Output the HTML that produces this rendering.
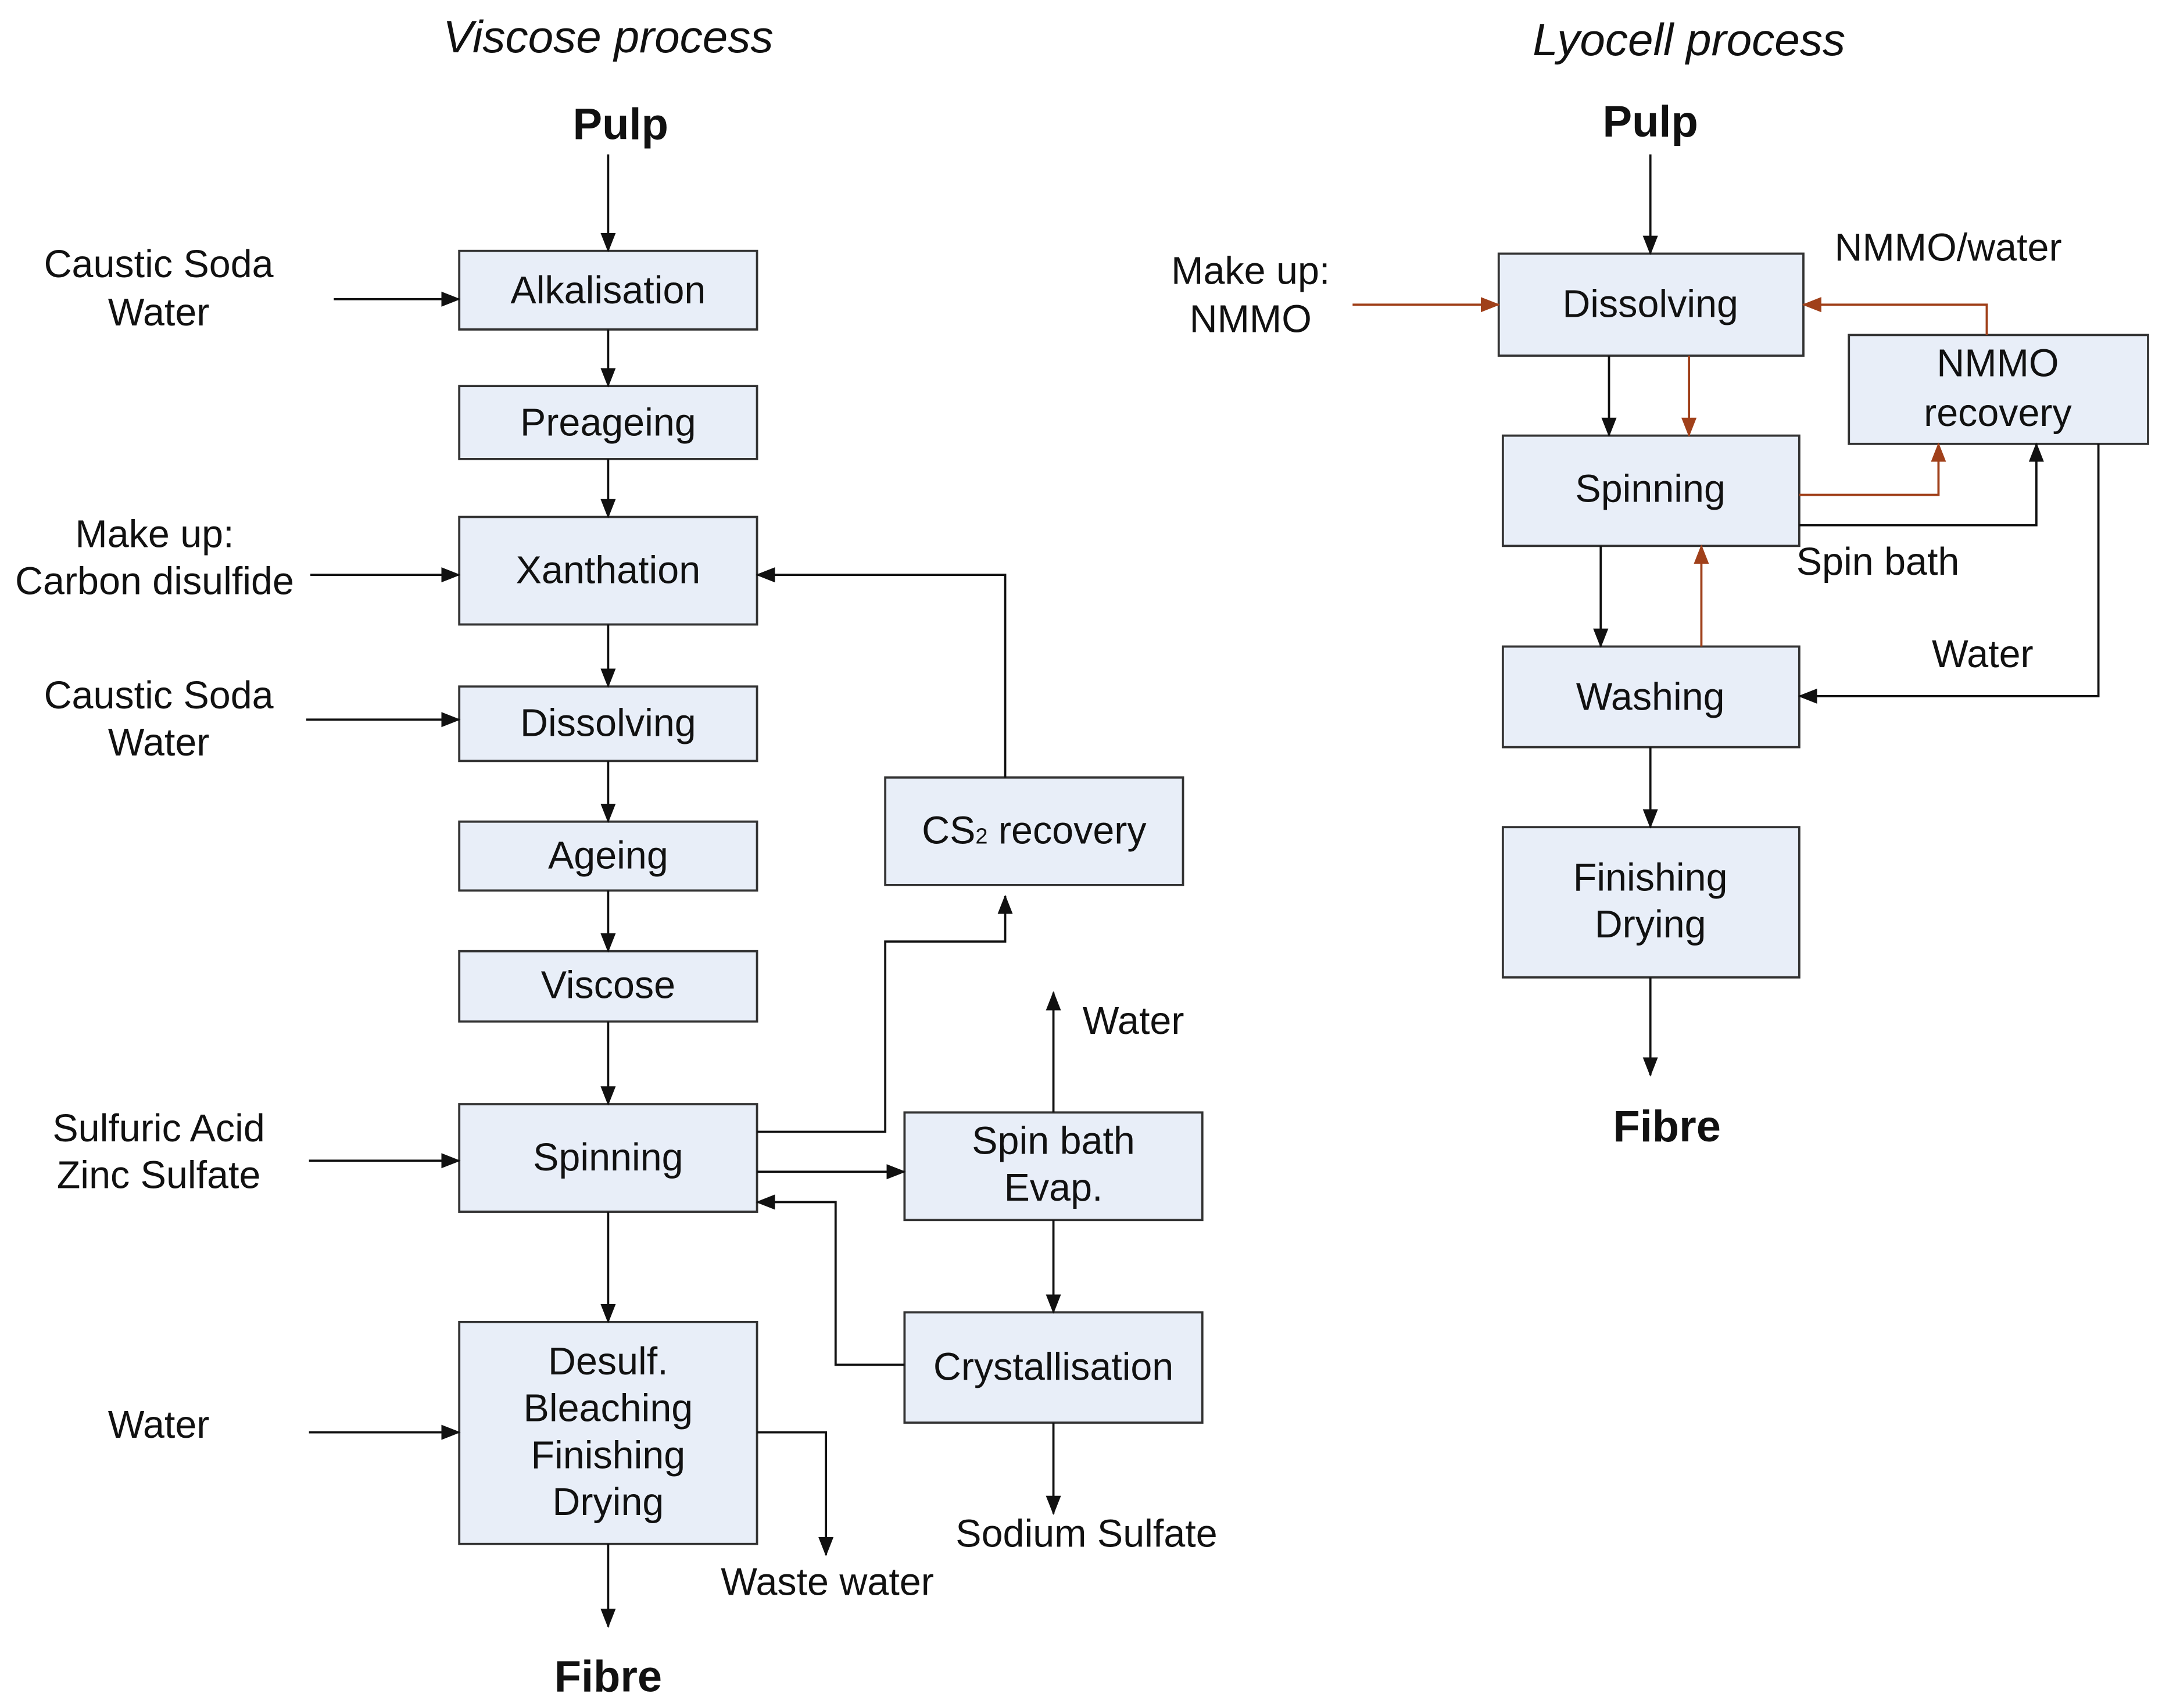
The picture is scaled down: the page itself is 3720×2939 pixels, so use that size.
<!DOCTYPE html>
<html><head><meta charset="utf-8"><style>
html,body{margin:0;padding:0;background:#fff;}
svg{display:block;}
text{font-family:"Liberation Sans",Arial,sans-serif;fill:#111;}
</style></head><body>
<svg width="3720" height="2939" viewBox="0 0 1568 1239" xmlns="http://www.w3.org/2000/svg">
<defs>
<marker id="a" markerWidth="14" markerHeight="11" refX="13" refY="5.5" orient="auto" markerUnits="userSpaceOnUse"><path d="M0,0 L14,5.5 L0,11 z" fill="#111"/></marker>
<marker id="b" markerWidth="14" markerHeight="11" refX="13" refY="5.5" orient="auto" markerUnits="userSpaceOnUse"><path d="M0,0 L14,5.5 L0,11 z" fill="#a0401a"/></marker>
</defs>
<g fill="#e8eef8" stroke="#333" stroke-width="1.6">
<rect x="333" y="182" width="216" height="57"/>
<rect x="333" y="280" width="216" height="53"/>
<rect x="333" y="375" width="216" height="78"/>
<rect x="333" y="498" width="216" height="54"/>
<rect x="333" y="596" width="216" height="50"/>
<rect x="333" y="690" width="216" height="51"/>
<rect x="333" y="801" width="216" height="78"/>
<rect x="333" y="959" width="216" height="161"/>
<rect x="642" y="564" width="216" height="78"/>
<rect x="656" y="807" width="216" height="78"/>
<rect x="656" y="952" width="216" height="80"/>
<rect x="1087" y="184" width="221" height="74"/>
<rect x="1341" y="243" width="217" height="79"/>
<rect x="1090" y="316" width="215" height="80"/>
<rect x="1090" y="469" width="215" height="73"/>
<rect x="1090" y="600" width="215" height="109"/>
</g>
<g font-size="28" text-anchor="middle">
<text x="441" y="220">Alkalisation</text>
<text x="441" y="316">Preageing</text>
<text x="441" y="423">Xanthation</text>
<text x="441" y="534">Dissolving</text>
<text x="441" y="630">Ageing</text>
<text x="441" y="724">Viscose</text>
<text x="441" y="849">Spinning</text>
<text x="441" y="997">Desulf.</text>
<text x="441" y="1031">Bleaching</text>
<text x="441" y="1065">Finishing</text>
<text x="441" y="1099">Drying</text>
<text x="750" y="612">CS<tspan font-size="16">2</tspan> recovery</text>
<text x="764" y="837">Spin bath</text>
<text x="764" y="871">Evap.</text>
<text x="764" y="1001">Crystallisation</text>
<text x="1197" y="230">Dissolving</text>
<text x="1449" y="273">NMMO</text>
<text x="1449" y="309">recovery</text>
<text x="1197" y="364">Spinning</text>
<text x="1197" y="515">Washing</text>
<text x="1197" y="646">Finishing</text>
<text x="1197" y="680">Drying</text>
<text x="115" y="201">Caustic Soda</text>
<text x="115" y="236">Water</text>
<text x="112" y="397">Make up:</text>
<text x="112" y="431">Carbon disulfide</text>
<text x="115" y="514">Caustic Soda</text>
<text x="115" y="548">Water</text>
<text x="115" y="828">Sulfuric Acid</text>
<text x="115" y="862">Zinc Sulfate</text>
<text x="115" y="1043">Water</text>
<text x="600" y="1157">Waste water</text>
<text x="822" y="750">Water</text>
<text x="788" y="1122">Sodium Sulfate</text>
<text x="907" y="206">Make up:</text>
<text x="907" y="241">NMMO</text>
<text x="1413" y="189">NMMO/water</text>
<text x="1362" y="417">Spin bath</text>
<text x="1438" y="484">Water</text>
</g>
<g font-size="33" font-style="italic" text-anchor="middle">
<text x="441" y="38">Viscose process</text>
<text x="1225" y="40">Lyocell process</text>
</g>
<g font-size="32" font-weight="bold" text-anchor="middle">
<text x="450" y="101">Pulp</text>
<text x="1197" y="99">Pulp</text>
<text x="441" y="1227">Fibre</text>
<text x="1209" y="828">Fibre</text>
</g>
<g stroke="#111" stroke-width="1.6" fill="none" marker-end="url(#a)">
<path d="M441,112V182"/>
<path d="M242,217H333"/>
<path d="M441,239V280"/>
<path d="M441,333V375"/>
<path d="M225,417H333"/>
<path d="M441,453V498"/>
<path d="M222,522H333"/>
<path d="M441,552V596"/>
<path d="M441,646V690"/>
<path d="M441,741V801"/>
<path d="M224,842H333"/>
<path d="M441,879V959"/>
<path d="M224,1039H333"/>
<path d="M441,1120V1180"/>
<path d="M549,1039H599V1128"/>
<path d="M549,821H642V683H729V650"/>
<path d="M729,564V417H549"/>
<path d="M549,850H656"/>
<path d="M764,807V720"/>
<path d="M764,885V952"/>
<path d="M764,1032V1098"/>
<path d="M656,990H606V872H549"/>
<path d="M1197,112V184"/>
<path d="M1167,258V316"/>
<path d="M1305,381H1477V322"/>
<path d="M1161,396V469"/>
<path d="M1522,322V505H1305"/>
<path d="M1197,542V600"/>
<path d="M1197,709V780"/>
</g>
<g stroke="#a0401a" stroke-width="1.6" fill="none" marker-end="url(#b)">
<path d="M981,221H1087"/>
<path d="M1441,243V221H1308"/>
<path d="M1225,258V316"/>
<path d="M1305,359H1406V322"/>
<path d="M1234,469V396"/>
</g>
</svg>
</body></html>
